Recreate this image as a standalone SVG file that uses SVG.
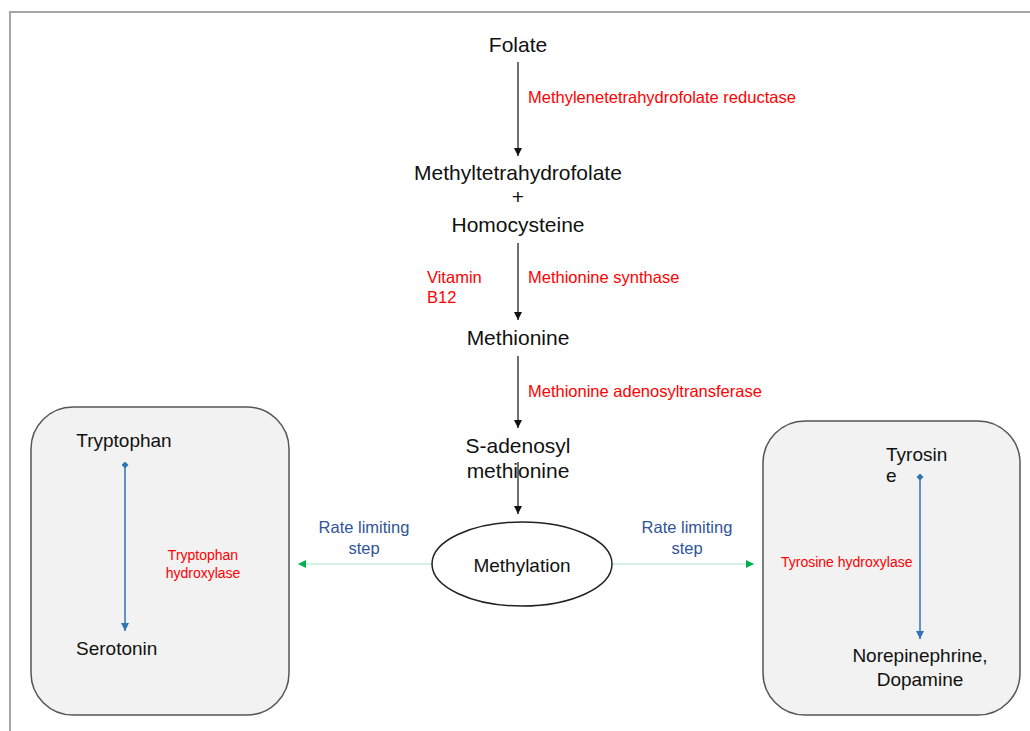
<svg xmlns="http://www.w3.org/2000/svg" width="1030" height="731" viewBox="0 0 1030 731">
<defs>
<style>
text{font-family:"Liberation Sans",Arial,sans-serif}
.main{font-size:21px;fill:#111}
.box{font-size:19px;fill:#111}
.enz{font-size:16.5px;fill:#ff0000}
.enzs{font-size:14px;fill:#ff0000}
.rate{font-size:16.5px;fill:#2f5597}
.blk{stroke:#111;stroke-width:1.2;fill:none}
.blu{stroke:#2e75b6;stroke-width:1.5;fill:none}
.grn{stroke:#a9e4c4;stroke-width:1.2;fill:none}
.panel{fill:#f2f2f2;stroke:#555;stroke-width:1.5}
</style>
<marker id="ab" viewBox="0 0 10 10" refX="10" refY="5" markerWidth="8" markerHeight="8" markerUnits="userSpaceOnUse" orient="auto"><path d="M0,0 L10,5 L0,10 Z" fill="#111"/></marker>
<marker id="au" viewBox="0 0 10 10" refX="10" refY="5" markerWidth="8" markerHeight="8" markerUnits="userSpaceOnUse" orient="auto"><path d="M0,0 L10,5 L0,10 Z" fill="#2e75b6"/></marker>
<marker id="du" viewBox="0 0 10 10" refX="5" refY="5" markerWidth="7" markerHeight="7" markerUnits="userSpaceOnUse" orient="auto"><path d="M0,5 L5,0 L10,5 L5,10 Z" fill="#2e75b6"/></marker>
<marker id="ag" viewBox="0 0 10 10" refX="10" refY="5" markerWidth="8" markerHeight="8" markerUnits="userSpaceOnUse" orient="auto"><path d="M0,0 L10,5 L0,10 Z" fill="#00b050"/></marker>
</defs>
<rect width="1030" height="731" fill="#fff"/>
<path d="M10,731 L10,12 L1030,12" fill="none" stroke="#a6a6a6" stroke-width="2"/>

<g id="panel-left">
<rect class="panel" x="31" y="407" width="258" height="308" rx="42"/>
</g>
<g id="panel-right">
<rect class="panel" x="763" y="421" width="257" height="294" rx="42"/>
</g>

<g id="connectors">
<line class="blk" x1="518" y1="62" x2="518" y2="156" marker-end="url(#ab)"/>
<line class="blk" x1="518" y1="243" x2="518" y2="320" marker-end="url(#ab)"/>
<line class="blk" x1="518" y1="356" x2="518" y2="428" marker-end="url(#ab)"/>
<line class="blk" x1="518" y1="462" x2="518" y2="514" marker-end="url(#ab)"/>
<line class="grn" x1="432" y1="564" x2="298" y2="564" marker-end="url(#ag)"/>
<line class="grn" x1="612" y1="564" x2="754" y2="564" marker-end="url(#ag)"/>
<line class="blu" x1="125" y1="465" x2="125" y2="631" marker-start="url(#du)" marker-end="url(#au)"/>
<line class="blu" x1="920" y1="477" x2="920" y2="639" marker-start="url(#du)" marker-end="url(#au)"/>
</g>

<g id="folate"><text class="main" x="518" y="52" text-anchor="middle">Folate</text></g>
<g id="mthfr"><text class="enz" x="528" y="103">Methylenetetrahydrofolate reductase</text></g>
<g id="methyltetrahydrofolate">
<text class="main" x="518" y="180" text-anchor="middle">Methyltetrahydrofolate</text>
<text class="main" x="518" y="204" text-anchor="middle">+</text>
<text class="main" x="518" y="232" text-anchor="middle">Homocysteine</text>
</g>
<g id="vitb12"><text class="enz" x="427" y="283">Vitamin</text><text class="enz" x="427" y="303">B12</text></g>
<g id="ms"><text class="enz" x="528" y="283">Methionine synthase</text></g>
<g id="methionine"><text class="main" x="518" y="345" text-anchor="middle">Methionine</text></g>
<g id="mat"><text class="enz" x="528" y="397">Methionine adenosyltransferase</text></g>
<g id="sam">
<text class="main" x="518" y="453" text-anchor="middle">S-adenosyl</text>
<text class="main" x="518" y="478" text-anchor="middle">methionine</text>
</g>
<g id="methylation">
<ellipse cx="522" cy="564" rx="90" ry="42" fill="#fff" stroke="#222" stroke-width="1.5"/>
<text class="main" x="522" y="572" text-anchor="middle" style="font-size:19px">Methylation</text>
</g>
<g id="rate-left"><text class="rate" x="364" y="533" text-anchor="middle">Rate limiting</text><text class="rate" x="364" y="554" text-anchor="middle">step</text></g>
<g id="rate-right"><text class="rate" x="687" y="533" text-anchor="middle">Rate limiting</text><text class="rate" x="687" y="554" text-anchor="middle">step</text></g>

<g id="tryptophan"><text class="box" x="124" y="447" text-anchor="middle">Tryptophan</text></g>
<g id="tph"><text class="enzs" x="203" y="560" text-anchor="middle">Tryptophan</text><text class="enzs" x="203" y="578" text-anchor="middle">hydroxylase</text></g>
<g id="serotonin"><text class="box" x="76" y="655">Serotonin</text></g>

<g id="tyrosine"><text class="box" x="886" y="461">Tyrosin</text><text class="box" x="886" y="482">e</text></g>
<g id="th"><text class="enzs" x="781" y="567">Tyrosine hydroxylase</text></g>
<g id="catecholamines"><text class="box" x="920" y="662" text-anchor="middle">Norepinephrine,</text><text class="box" x="920" y="686" text-anchor="middle">Dopamine</text></g>
</svg>
